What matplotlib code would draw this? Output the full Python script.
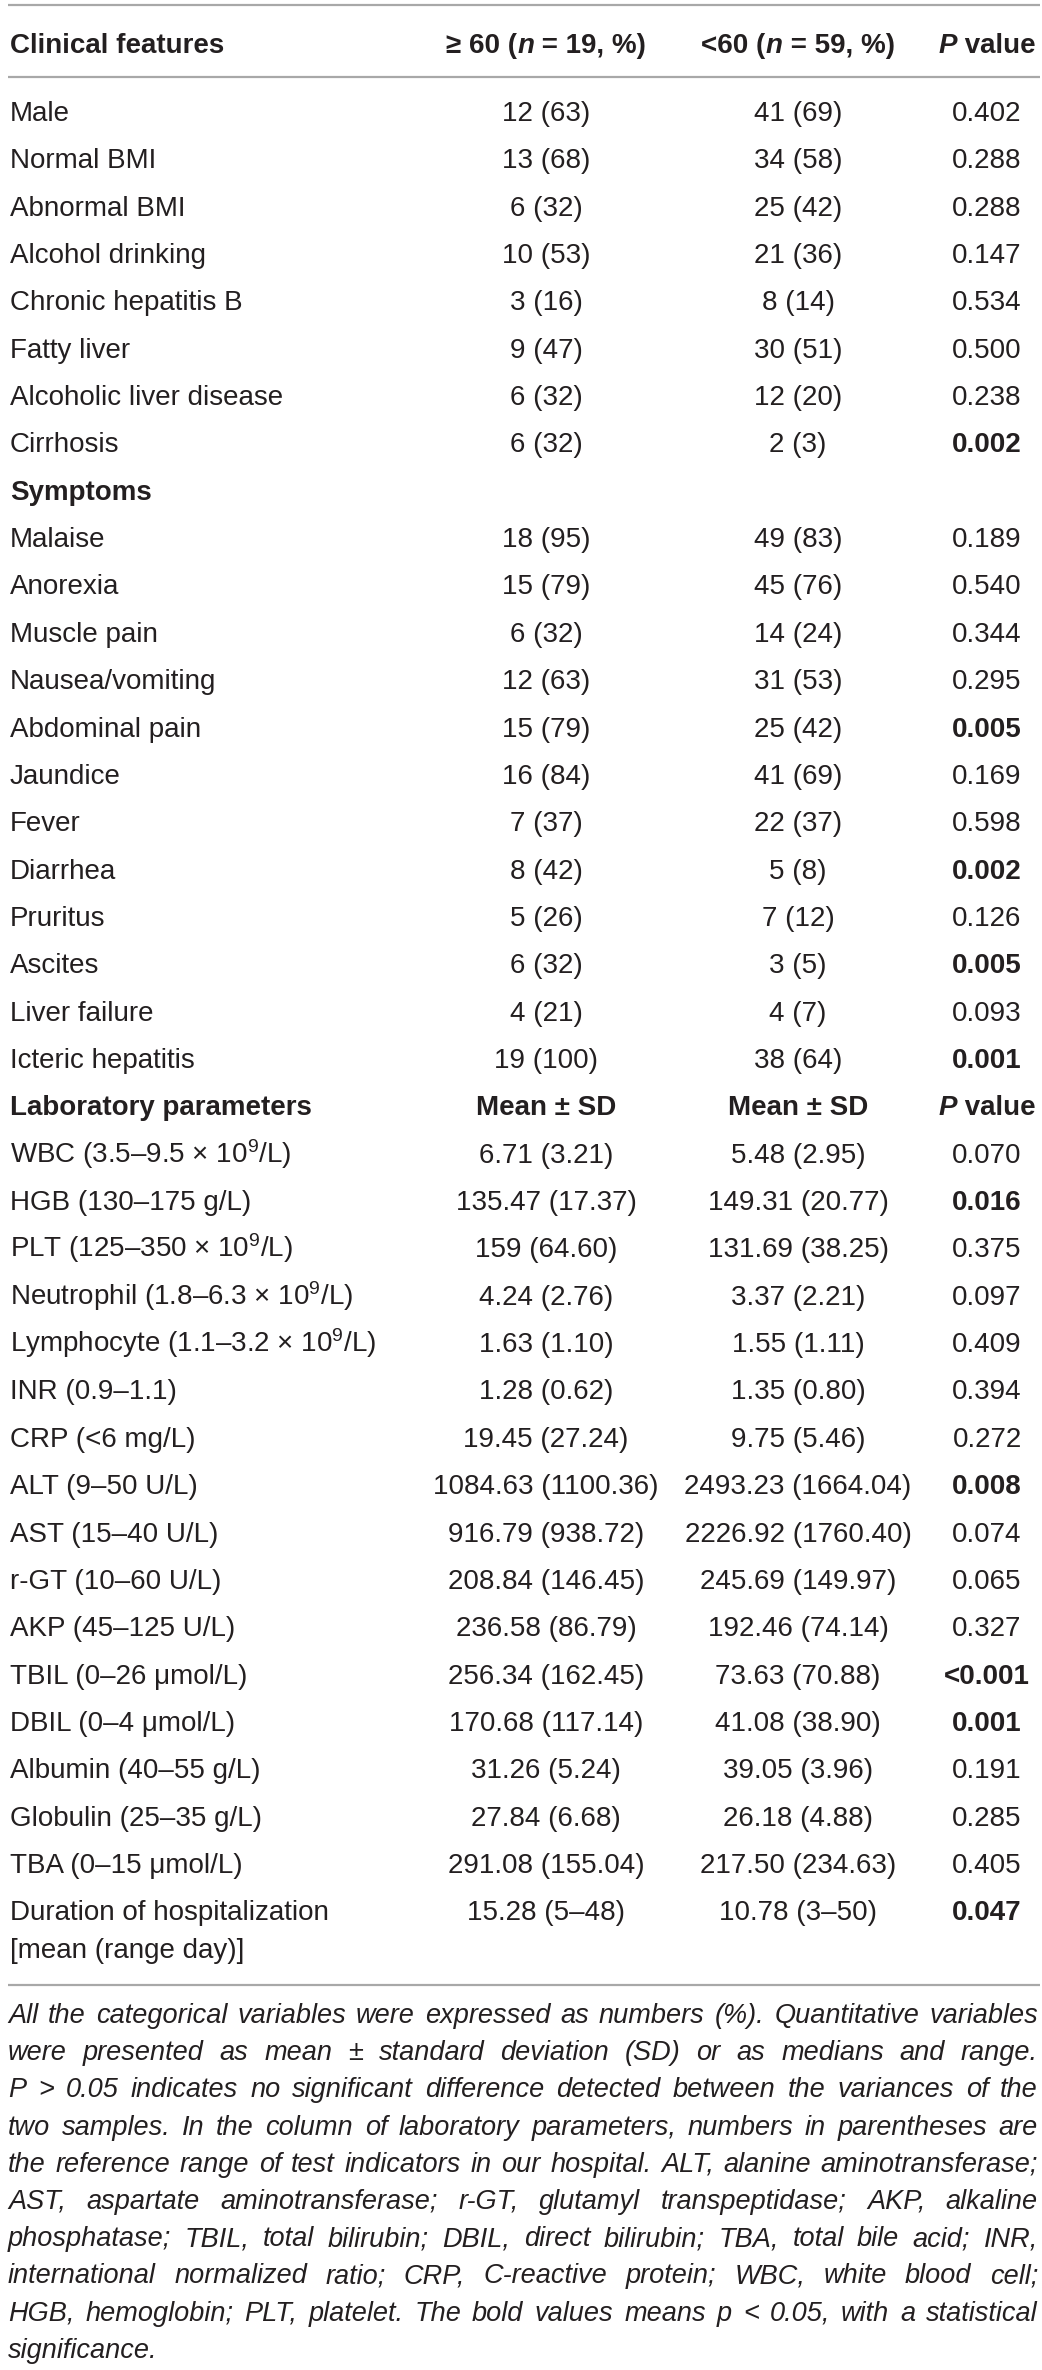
import matplotlib
matplotlib.use("Agg")
import matplotlib.pyplot as plt

plt.rcParams['font.family'] = ['Liberation Sans', 'DejaVu Sans']
plt.rcParams['mathtext.fontset'] = 'custom'
plt.rcParams['mathtext.rm'] = 'Liberation Sans'
plt.rcParams['mathtext.it'] = 'Liberation Sans:italic'
plt.rcParams['mathtext.bf'] = 'Liberation Sans:bold'

# ---- data ----
clinical_labels = ["Male", "Normal BMI", "Abnormal BMI", "Alcohol drinking",
                   "Chronic hepatitis B", "Fatty liver", "Alcoholic liver disease", "Cirrhosis"]
clinical_old = ["12 (63)", "13 (68)", "6 (32)", "10 (53)", "3 (16)", "9 (47)", "6 (32)", "6 (32)"]
clinical_young = ["41 (69)", "34 (58)", "25 (42)", "21 (36)", "8 (14)", "30 (51)", "12 (20)", "2 (3)"]
clinical_p = ["0.402", "0.288", "0.288", "0.147", "0.534", "0.500", "0.238", "0.002"]

symptom_labels = ["Malaise", "Anorexia", "Muscle pain", "Nausea/vomiting", "Abdominal pain",
                  "Jaundice", "Fever", "Diarrhea", "Pruritus", "Ascites", "Liver failure",
                  "Icteric hepatitis"]
symptom_old = ["18 (95)", "15 (79)", "6 (32)", "12 (63)", "15 (79)", "16 (84)", "7 (37)",
               "8 (42)", "5 (26)", "6 (32)", "4 (21)", "19 (100)"]
symptom_young = ["49 (83)", "45 (76)", "14 (24)", "31 (53)", "25 (42)", "41 (69)", "22 (37)",
                 "5 (8)", "7 (12)", "3 (5)", "4 (7)", "38 (64)"]
symptom_p = ["0.189", "0.540", "0.344", "0.295", "0.005", "0.169", "0.598", "0.002",
             "0.126", "0.005", "0.093", "0.001"]

lab_labels = [r"WBC (3.5–9.5 × 10$^{9}$/L)", "HGB (130–175 g/L)",
              r"PLT (125–350 × 10$^{9}$/L)", r"Neutrophil (1.8–6.3 × 10$^{9}$/L)",
              r"Lymphocyte (1.1–3.2 × 10$^{9}$/L)", "INR (0.9–1.1)", "CRP (<6 mg/L)",
              "ALT (9–50 U/L)", "AST (15–40 U/L)", "r-GT (10–60 U/L)", "AKP (45–125 U/L)",
              "TBIL (0–26 μmol/L)", "DBIL (0–4 μmol/L)", "Albumin (40–55 g/L)",
              "Globulin (25–35 g/L)", "TBA (0–15 μmol/L)",
              "Duration of hospitalization\n[mean (range day)]"]
lab_old = ["6.71 (3.21)", "135.47 (17.37)", "159 (64.60)", "4.24 (2.76)", "1.63 (1.10)",
           "1.28 (0.62)", "19.45 (27.24)", "1084.63 (1100.36)", "916.79 (938.72)",
           "208.84 (146.45)", "236.58 (86.79)", "256.34 (162.45)", "170.68 (117.14)",
           "31.26 (5.24)", "27.84 (6.68)", "291.08 (155.04)", "15.28 (5–48)"]
lab_young = ["5.48 (2.95)", "149.31 (20.77)", "131.69 (38.25)", "3.37 (2.21)", "1.55 (1.11)",
             "1.35 (0.80)", "9.75 (5.46)", "2493.23 (1664.04)", "2226.92 (1760.40)",
             "245.69 (149.97)", "192.46 (74.14)", "73.63 (70.88)", "41.08 (38.90)",
             "39.05 (3.96)", "26.18 (4.88)", "217.50 (234.63)", "10.78 (3–50)"]
lab_p = ["0.070", "0.016", "0.375", "0.097", "0.409", "0.394", "0.272", "0.008", "0.074",
         "0.065", "0.327", "<0.001", "0.001", "0.191", "0.285", "0.405", "0.047"]

footnote_lines = [
    "All the categorical variables were expressed as numbers (%). Quantitative variables",
    "were presented as mean ± standard deviation (SD) or as medians and range.",
    "P > 0.05 indicates no significant difference detected between the variances of the",
    "two samples. In the column of laboratory parameters, numbers in parentheses are",
    "the reference range of test indicators in our hospital. ALT, alanine aminotransferase;",
    "AST, aspartate aminotransferase; r-GT, glutamyl transpeptidase; AKP, alkaline",
    "phosphatase; TBIL, total bilirubin; DBIL, direct bilirubin; TBA, total bile acid; INR,",
    "international normalized ratio; CRP, C-reactive protein; WBC, white blood cell;",
    "HGB, hemoglobin; PLT, platelet. The bold values means p < 0.05, with a statistical",
    "significance.",
]

# ---- layout ----
W, H = 1042, 2370
TXT = "#231f20"
RULE = "#a8a8a8"
FS = 20
X_LABEL, X_OLD, X_YOUNG, X_P = 10, 546, 798, 987
ROW0, STEP, BASE = 110, 47.35, 11

fig = plt.figure(figsize=(W / 100, H / 100), dpi=100)
ax = fig.add_axes([0, 0, 1, 1])
ax.set_xlim(0, W)
ax.set_ylim(H, 0)
ax.axis('off')
renderer = fig.canvas.get_renderer()


def row_y(i):
    return ROW0 + STEP * i


def is_sig(p):
    return p.startswith("<") or float(p) < 0.05


def width_of(s, size, **kw):
    t = ax.text(0, 0, s, fontsize=size, **kw)
    w = t.get_window_extent(renderer).width
    t.remove()
    return w


def seg_text(xc, yb, segs):
    # segments are placed one after another, centred on xc, on baseline yb
    ws = [width_of(s, FS, fontweight=w, fontstyle=st) for s, w, st in segs]
    x = xc - sum(ws) / 2
    for (s, w, st), wd in zip(segs, ws):
        ax.text(x, yb, s, fontsize=FS, fontweight=w, fontstyle=st, color=TXT,
                ha='left', va='baseline')
        x += wd


def pval_header(yb):
    seg_text(X_P, yb, [("P", "bold", "italic"), (" value", "bold", "normal")])


def data_row(y, label, old, young, p):
    base = y + BASE
    for k, ln in enumerate(label.split("\n")):
        ax.text(X_LABEL, base + 38 * k, ln, fontsize=FS, color=TXT, ha='left', va='baseline')
    ax.text(X_OLD, base, old, fontsize=FS, color=TXT, ha='center', va='baseline')
    ax.text(X_YOUNG, base, young, fontsize=FS, color=TXT, ha='center', va='baseline')
    ax.text(X_P, base, p, fontsize=FS, color=TXT, ha='center', va='baseline',
            fontweight='bold' if is_sig(p) else 'normal')


# rules
for yy in (5, 77, 1985):
    ax.plot([8, 1040], [yy, yy], color=RULE, lw=1.6, solid_capstyle='butt')

# header
hb = 53
ax.text(X_LABEL, hb, "Clinical features", fontsize=FS, fontweight='bold', color=TXT,
        ha='left', va='baseline')
seg_text(X_OLD, hb, [("≥ 60 (", "bold", "normal"), ("n", "bold", "italic"),
                     (" = 19, %)", "bold", "normal")])
seg_text(X_YOUNG, hb, [("<60 (", "bold", "normal"), ("n", "bold", "italic"),
                       (" = 59, %)", "bold", "normal")])
pval_header(hb)

r = 0
for lab, a, b, p in zip(clinical_labels, clinical_old, clinical_young, clinical_p):
    data_row(row_y(r), lab, a, b, p)
    r += 1

ax.text(X_LABEL, row_y(r) + BASE, "Symptoms", fontsize=FS, fontweight='bold', color=TXT,
        ha='left', va='baseline')
r += 1
for lab, a, b, p in zip(symptom_labels, symptom_old, symptom_young, symptom_p):
    data_row(row_y(r), lab, a, b, p)
    r += 1

lb = row_y(r) + BASE
ax.text(X_LABEL, lb, "Laboratory parameters", fontsize=FS, fontweight='bold', color=TXT,
        ha='left', va='baseline')
ax.text(X_OLD, lb, "Mean ± SD", fontsize=FS, fontweight='bold', color=TXT,
        ha='center', va='baseline')
ax.text(X_YOUNG, lb, "Mean ± SD", fontsize=FS, fontweight='bold', color=TXT,
        ha='center', va='baseline')
pval_header(lb)
r += 1
for lab, a, b, p in zip(lab_labels, lab_old, lab_young, lab_p):
    data_row(row_y(r), lab, a, b, p)
    r += 1

# footnote, justified
FX0, FX1 = 8, 1038
probe = 20
space = width_of("a a", probe, fontstyle='italic') - width_of("aa", probe, fontstyle='italic')
natural = []
for ln in footnote_lines[:-1]:
    ws = ln.split(" ")
    natural.append(sum(width_of(w, probe, fontstyle='italic') for w in ws) + space * (len(ws) - 1))
fsize = min(19.5, probe * (FX1 - FX0) / max(natural) * 0.985)

fy = 2023
for k, ln in enumerate(footnote_lines):
    y = fy + 37.2 * k
    words = ln.split(" ")
    if k == len(footnote_lines) - 1:
        ax.text(FX0, y, ln, fontsize=fsize, fontstyle='italic', color=TXT,
                ha='left', va='baseline')
        continue
    widths = [width_of(w, fsize, fontstyle='italic') for w in words]
    gap = (FX1 - FX0 - sum(widths)) / (len(words) - 1)
    x = FX0
    for w, wd in zip(words, widths):
        ax.text(x, y, w, fontsize=fsize, fontstyle='italic', color=TXT,
                ha='left', va='baseline')
        x += wd + gap

fig.savefig("out.png", dpi=100)
